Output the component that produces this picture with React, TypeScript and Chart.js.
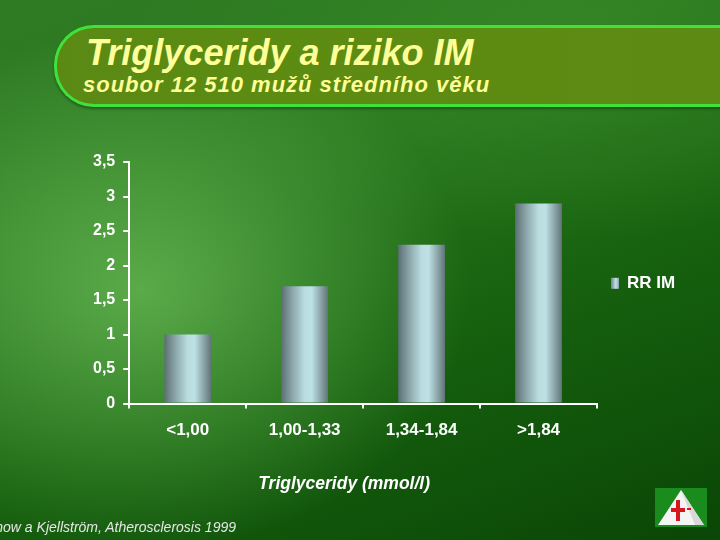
import React, { useEffect, useRef } from "react";
import { Chart, registerables } from "chart.js";

Chart.register(...registerables);

const categories = ["<1,00", "1,00-1,33", "1,34-1,84", ">1,84"];
const rrValues = [1.0, 1.7, 2.3, 2.9];
const seriesName = "RR IM";
const yTickLabels = ["0", "0,5", "1", "1,5", "2", "2,5", "3", "3,5"];
const xAxisTitle = "Triglyceridy (mmol/l)";
const titleText = "Triglyceridy a riziko IM";
const subtitleText = "soubor 12 510 mužů středního věku";
const sourceText = "Stavenow a Kjellström, Atherosclerosis 1999";

const FONT = "'Liberation Sans', Arial, Helvetica, sans-serif";
const BAR_PCT = 0.4;

function barGradient(ctx: any) {
  const chart = ctx.chart;
  const xs = chart.scales && chart.scales.x;
  if (!xs || !xs.width) return "#a9c9cc";
  const cx = xs.getPixelForValue(ctx.dataIndex);
  const w = (xs.width / categories.length) * BAR_PCT;
  const g = chart.ctx.createLinearGradient(cx - w / 2, 0, cx + w / 2, 0);
  g.addColorStop(0, "#5c6f73");
  g.addColorStop(0.25, "#8ea9ad");
  g.addColorStop(0.5, "#b9dde0");
  g.addColorStop(0.65, "#bde1e4");
  g.addColorStop(0.85, "#8aa3a7");
  g.addColorStop(1, "#627478");
  return g;
}

const sideLegend = {
  id: "sideLegend",
  afterDraw(chart: any) {
    const { ctx, chartArea } = chart;
    const ds = chart.data.datasets[0];
    const cy = (chartArea.top + chartArea.bottom) / 2;
    const bx = chartArea.right + 14;
    ctx.save();
    const g = ctx.createLinearGradient(bx, 0, bx + 8, 0);
    g.addColorStop(0, "#6f8488");
    g.addColorStop(0.6, "#c3e3e6");
    g.addColorStop(1, "#8aa2a6");
    ctx.fillStyle = g;
    ctx.fillRect(bx, cy - 5, 8, 11);
    ctx.fillStyle = "#ffffff";
    ctx.font = `bold 17px ${FONT}`;
    ctx.textBaseline = "middle";
    ctx.textAlign = "left";
    ctx.fillText(ds.label, bx + 16, cy + 1);

    // x-axis title (placed slightly left of the plot centre, as in the slide)
    const cx = (chartArea.left + chartArea.right) / 2 - 19;
    ctx.font = `italic bold 17.5px ${FONT}`;
    ctx.textAlign = "center";
    ctx.fillText(xAxisTitle, cx, chartArea.bottom + 81);
    ctx.restore();
  },
};

export default function App() {
  const ref = useRef<HTMLCanvasElement | null>(null);

  useEffect(() => {
    if (!ref.current) return;
    const chart = new Chart(ref.current, {
      type: "bar",
      data: {
        labels: categories,
        datasets: [
          {
            label: seriesName,
            data: rrValues,
            backgroundColor: barGradient as any,
            borderWidth: 0,
            barPercentage: BAR_PCT,
            categoryPercentage: 1,
          },
        ],
      },
      plugins: [sideLegend],
      options: {
        responsive: false,
        animation: false,
        layout: { padding: { left: 85, top: 162, right: 123, bottom: 87 } },
        plugins: {
          tooltip: { enabled: false },
          legend: { display: false },
        },
        scales: {
          x: {
            offset: true,
            grid: {
              offset: true,
              drawOnChartArea: false,
              drawTicks: true,
              tickLength: 5,
              color: "#ffffff",
              lineWidth: 2,
            },
            border: { color: "#ffffff", width: 2 },
            ticks: {
              color: "#ffffff",
              font: { family: FONT, size: 17, weight: "bold" },
              padding: 12,
              maxRotation: 0,
            },
          },
          y: {
            min: 0,
            max: 3.5,
            grid: {
              drawOnChartArea: false,
              drawTicks: true,
              tickLength: 6,
              color: "#ffffff",
              lineWidth: 2,
            },
            border: { color: "#ffffff", width: 2 },
            ticks: {
              stepSize: 0.5,
              color: "#ffffff",
              font: { family: FONT, size: 16, weight: "bold" },
              padding: 8,
              callback: (_v: any, i: number) => yTickLabels[i],
            },
          },
        },
      },
    });
    return () => chart.destroy();
  }, []);

  return (
    <div
      style={{
        position: "fixed",
        left: 0,
        top: 0,
        width: 720,
        height: 540,
        overflow: "hidden",
        fontFamily: FONT,
        background:
          "radial-gradient(ellipse 330px 260px at 140px 290px, rgba(110,190,90,0.75), rgba(110,190,90,0) 100%), radial-gradient(ellipse 420px 200px at 560px 40px, rgba(60,140,40,0.6), rgba(60,140,40,0) 100%), linear-gradient(160deg, #2f7a24 0%, #2a7a20 30%, #17620f 60%, #0a4606 100%)",
      }}
    >
      <div
        style={{
          position: "absolute",
          left: 54,
          top: 25,
          width: 720,
          height: 76,
          border: "3px solid #3fe23c",
          borderRight: "none",
          borderRadius: "40px 0 0 40px",
          background: "linear-gradient(90deg, #5a8a14 0%, #5e8c12 50%, #5c8a14 100%)",
          boxShadow: "0 2px 3px rgba(0,0,0,0.35)",
        }}
      />
      <div
        style={{
          position: "absolute",
          left: 86,
          top: 33,
          color: "#ffff99",
          fontSize: 36,
          fontWeight: "bold",
          fontStyle: "italic",
          lineHeight: "40px",
          whiteSpace: "nowrap",
        }}
      >
        {titleText}
      </div>
      <div
        style={{
          position: "absolute",
          left: 83,
          top: 72,
          color: "#ffff99",
          fontSize: 22,
          fontWeight: "bold",
          fontStyle: "italic",
          letterSpacing: 1,
          lineHeight: "26px",
          whiteSpace: "nowrap",
        }}
      >
        {subtitleText}
      </div>
      <canvas
        ref={ref}
        width={720}
        height={540}
        style={{ position: "absolute", left: 0, top: 0, width: 720, height: 540 }}
      />
      <div
        style={{
          position: "absolute",
          right: 720 - 236,
          top: 518,
          color: "#e6e6e6",
          fontSize: 14,
          fontStyle: "italic",
          lineHeight: "18px",
          whiteSpace: "nowrap",
        }}
      >
        {sourceText}
      </div>
      <svg
        width={52}
        height={39}
        viewBox="0 0 52 39"
        style={{ position: "absolute", left: 655, top: 488 }}
      >
        <rect x={0} y={0} width={52} height={39} fill="#1a8c1e" />
        <path d="M26 2 L49 37 L3 37 Z" fill="#f4f4f4" />
        <path d="M26 2 L49 37 L40 37 Z" fill="#d8d8d8" />
        <rect x={21} y={12} width={4} height={21} fill="#d8141c" />
        <rect x={16} y={20} width={14} height={4} fill="#d8141c" />
        <rect x={32} y={20} width={4} height={2} fill="#d8141c" />
      </svg>
    </div>
  );
}
